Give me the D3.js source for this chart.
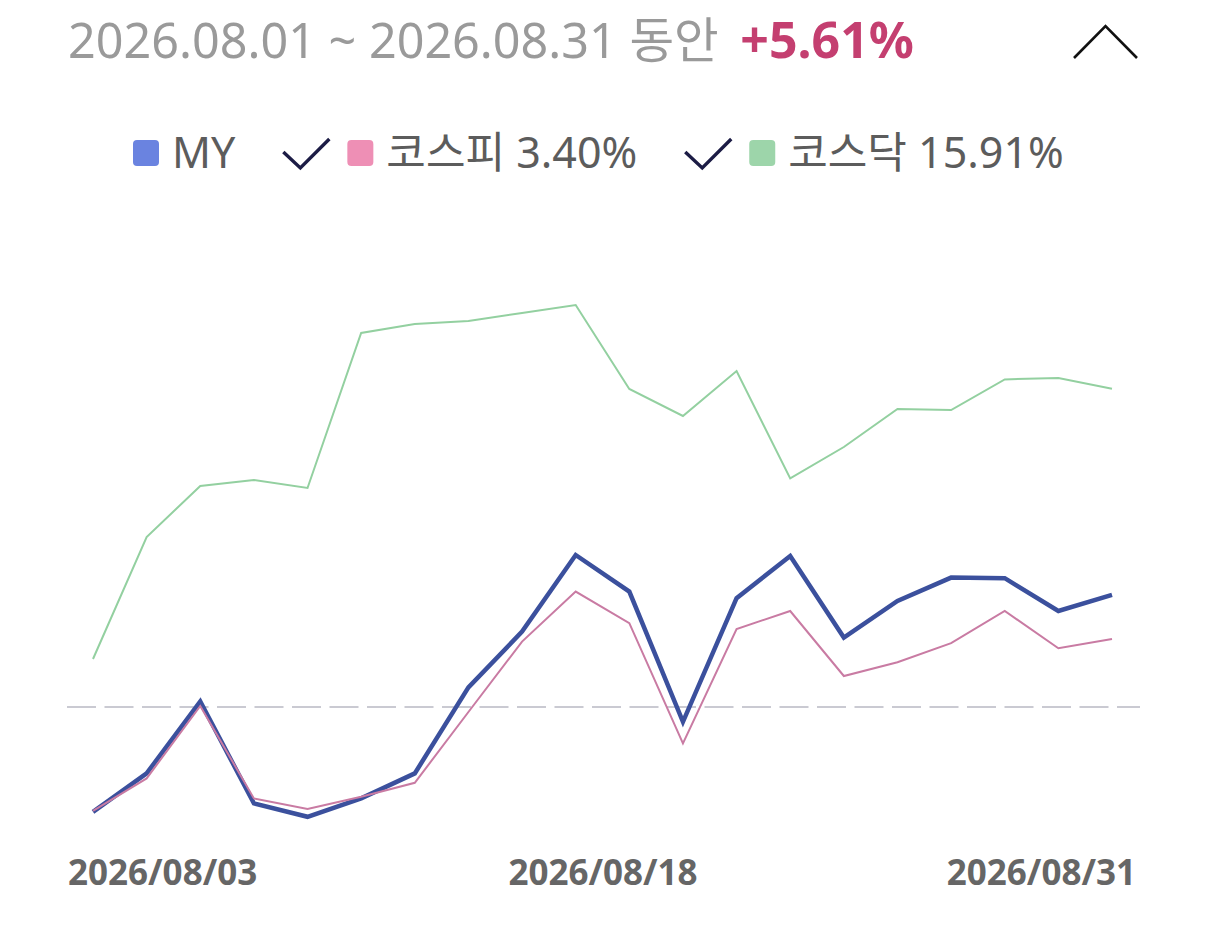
<!DOCTYPE html>
<html>
<head>
<meta charset="utf-8">
<script src="https://cdn.jsdelivr.net/npm/d3@7"></script>
<style>
  html, body { margin: 0; padding: 0; background: #fff; }
  svg { display: block; }
  text { font-family: "Noto Sans", "Noto Sans CJK KR", sans-serif; }
</style>
</head>
<body>
<svg id="canvas" width="1206" height="930"></svg>
<script>
// 기간 / 수익률
const periodText = "2026.08.01 ~ 2026.08.31 동안"
const myReturn = "+5.61%"

// 거래일 (20일)
const dates = [
    "2026/08/03", "2026/08/04", "2026/08/05", "2026/08/06", "2026/08/07",
    "2026/08/10", "2026/08/11", "2026/08/12", "2026/08/13", "2026/08/14",
    "2026/08/18", "2026/08/19", "2026/08/20", "2026/08/21", "2026/08/24",
    "2026/08/25", "2026/08/26", "2026/08/27", "2026/08/28", "2026/08/31",
]
// 축에 보이는 날짜
const tickDates = ["2026/08/03", "2026/08/18", "2026/08/31"]

// 누적 수익률 (%)
const myValues = [
    -5.24, -3.32, 0.28, -4.82, -5.49, -4.57, -3.32, 0.98, 3.77, 7.60,
    5.77, -0.74, 5.44, 7.55, 3.47, 5.30, 6.47, 6.44, 4.80, 5.61,
]
const kospiValues = [
    -5.19, -3.57, 0.05, -4.57, -5.10, -4.49, -3.79, -0.25, 3.27, 5.77,
    4.19, -1.82, 3.90, 4.80, 1.55, 2.24, 3.19, 4.80, 2.94, 3.40,
]
const kosdaqValues = [
    2.40, 8.50, 11.05, 11.35, 10.95, 18.70, 19.15, 19.30, 19.70, 20.10,
    15.90, 14.55, 16.80, 11.43, 13.00, 14.90, 14.85, 16.38, 16.45, 15.91,
]

// 범례
const legendNames = ["MY", "코스피 3.40%", "코스닥 15.91%"]
const legendChecked = [false, true, true]

const svg = d3.select("#canvas")

// 헤더
const header = svg.append("text")
    .attr("x", 68)
    .attr("y", 58)
    .attr("font-size", 48.5)
header.append("tspan")
    .attr("fill", "#9a9a9a")
    .text(periodText + " ")
header.append("tspan")
    .attr("fill", "#c43f70")
    .attr("font-weight", "bold")
    .attr("font-size", 50)
    .attr("dx", 9)
    .text(myReturn)

// 접기 버튼
svg.append("path")
    .attr("d", "M1074,58 L1105.5,26 L1137,58")
    .attr("fill", "none")
    .attr("stroke", "#111")
    .attr("stroke-width", 2.6)

// 범례 그리기
const legendColors = ["#6a83e0", "#ee8fb5", "#9dd5aa"]
let lx = 133
legendNames.forEach((name, i) => {
    if (legendChecked[i]) {
        svg.append("path")
            .attr("d", `M${lx + 1},${152} L${lx + 18},${168} L${lx + 47},${139}`)
            .attr("fill", "none")
            .attr("stroke", "#1c1c45")
            .attr("stroke-width", 3.4)
        lx += 65
    }
    svg.append("rect")
        .attr("x", lx)
        .attr("y", 140)
        .attr("width", 26)
        .attr("height", 26)
        .attr("rx", 4)
        .attr("fill", legendColors[i])
    const t = svg.append("text")
        .attr("x", lx + 39)
        .attr("y", 168)
        .attr("font-size", 43)
        .attr("fill", "#5c5c5c")
        .text(name)
    lx += 39 + t.node().getComputedTextLength() + 47
})

// 스케일
const x = d3.scalePoint()
    .domain(dates)
    .range([93, 1112])

const y = d3.scaleLinear()
    .domain([-6, 20.5])
    .range([827, 297])

// 0% 기준선
svg.append("line")
    .attr("x1", 67)
    .attr("x2", 1140)
    .attr("y1", y(0))
    .attr("y2", y(0))
    .attr("stroke", "#cacad2")
    .attr("stroke-width", 2)
    .attr("stroke-dasharray", "29,8.5")

const line = d3.line()
    .x((d, i) => x(dates[i]))
    .y(d => y(d))

// 코스닥
svg.append("path")
    .datum(kosdaqValues)
    .attr("d", line)
    .attr("fill", "none")
    .attr("stroke", "#93d0a0")
    .attr("stroke-width", 2)

// MY
svg.append("path")
    .datum(myValues)
    .attr("d", line)
    .attr("fill", "none")
    .attr("stroke", "#3b509d")
    .attr("stroke-width", 4.5)

// 코스피
svg.append("path")
    .datum(kospiValues)
    .attr("d", line)
    .attr("fill", "none")
    .attr("stroke", "#c97ba3")
    .attr("stroke-width", 2)

// x축 날짜 (왼쪽, 가운데, 오른쪽 정렬)
const anchors = ["start", "middle", "end"]
const labelX = [68, 603, 1136]
tickDates.forEach((d, i) => {
    svg.append("text")
        .attr("x", labelX[i])
        .attr("y", 885)
        .attr("text-anchor", anchors[i])
        .attr("font-size", 35)
        .attr("font-weight", "bold")
        .attr("fill", "#666")
        .text(d)
})
</script>
</body>
</html>
